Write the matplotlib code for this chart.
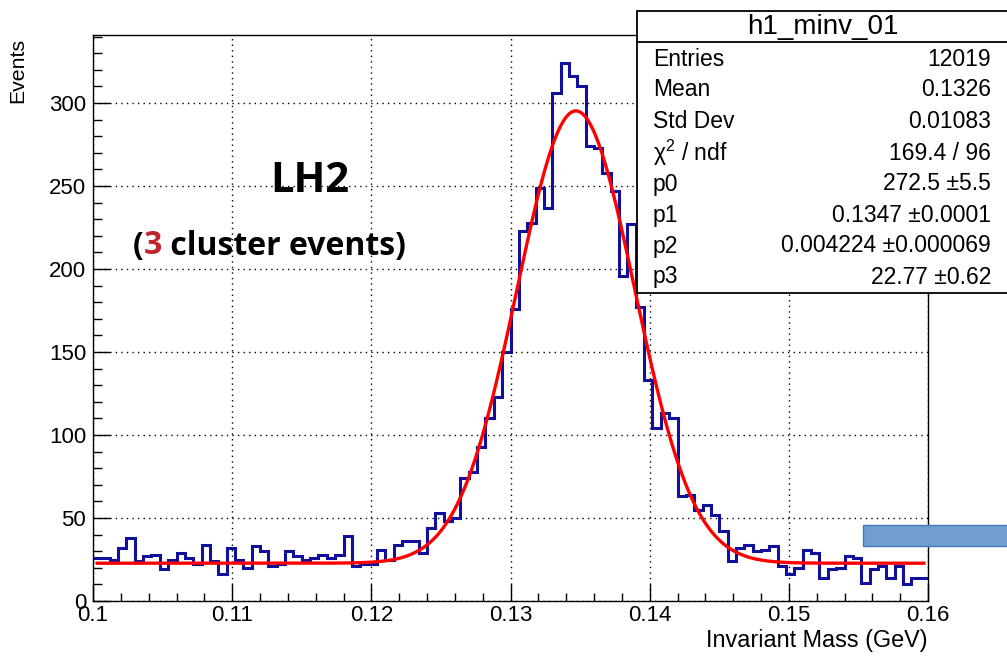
import numpy as np
import matplotlib
matplotlib.use("Agg")
import matplotlib.pyplot as plt
from matplotlib.patches import Rectangle
from matplotlib.lines import Line2D
from matplotlib.ticker import MultipleLocator

# ---- data -------------------------------------------------------------
x_min, x_max = 0.1, 0.16
counts = [26, 26, 25, 32, 38, 24, 27, 28, 19, 25,
          29, 26, 22, 34, 24, 16, 32, 25, 20, 33,
          30, 21, 22, 30, 27, 25, 26, 28, 26, 28,
          39, 21, 22, 22, 31, 25, 34, 36, 36, 29,
          44, 53, 48, 50, 74, 78, 93, 110, 123, 150,
          176, 223, 228, 249, 237, 306, 324, 316, 310, 274,
          273, 258, 247, 196, 227, 177, 133, 104, 113, 110,
          63, 64, 55, 58, 52, 42, 24, 32, 34, 30,
          31, 33, 21, 16, 20, 31, 29, 14, 19, 20,
          27, 26, 11, 19, 21, 14, 21, 10, 14, 14]

# gaussian + constant fit
fit_p0, fit_p1, fit_p2, fit_p3 = 272.5, 0.1347, 0.004224, 22.77
fit_lo, fit_hi = 0.1003, 0.1597

x_ticks = [0.1, 0.11, 0.12, 0.13, 0.14, 0.15, 0.16]
x_tick_labels = ["0.1", "0.11", "0.12", "0.13", "0.14", "0.15", "0.16"]
y_ticks = [0, 50, 100, 150, 200, 250, 300]
y_tick_labels = ["0", "50", "100", "150", "200", "250", "300"]

stat_title = "h1_minv_01"
stat_names = ["Entries", "Mean", "Std Dev", "χ$^{2}$ / ndf", "p0", "p1", "p2", "p3"]
stat_values = ["12019", "0.1326", "0.01083", "169.4 / 96", "272.5 ±5.5",
               "0.1347 ±0.0001", "0.004224 ±0.000069", "22.77 ±0.62"]

# ---- style ------------------------------------------------------------
W, H = 1007, 659
plt.rcParams["font.family"] = ["Liberation Sans", "DejaVu Sans"]
plt.rcParams["mathtext.fontset"] = "custom"
plt.rcParams["mathtext.rm"] = "Liberation Sans"
plt.rcParams["mathtext.it"] = "Liberation Sans:italic"

fig = plt.figure(figsize=(W / 100, H / 100), dpi=100)
fig.patch.set_facecolor("white")


def fx(px):
    return px / W


def fy(py):
    return 1 - py / H


ax_l, ax_r, ax_t, ax_b = 93, 928, 35, 601
ax = fig.add_axes([fx(ax_l), fy(ax_b), fx(ax_r) - fx(ax_l), fy(ax_t) - fy(ax_b)])

edges = np.linspace(x_min, x_max, len(counts) + 1)
ax.stairs(counts, edges, color="#10109a", lw=2.2, baseline=None, zorder=3)

xf = np.linspace(fit_lo, fit_hi, 600)
yf = fit_p0 * np.exp(-0.5 * ((xf - fit_p1) / fit_p2) ** 2) + fit_p3
ax.plot(xf, yf, color="#ff0000", lw=2.4, zorder=4)

ax.set_xlim(x_min, x_max)
ax.set_ylim(0, 341)

ax.set_xticks(x_ticks)
ax.set_xticklabels(x_tick_labels)
ax.set_yticks(y_ticks)
ax.set_yticklabels(y_tick_labels)
ax.xaxis.set_minor_locator(MultipleLocator(0.002))
ax.yaxis.set_minor_locator(MultipleLocator(10))
ax.tick_params(axis="x", which="major", direction="in", length=12, width=1,
               labelsize=16, pad=3, top=False)
ax.tick_params(axis="x", which="minor", direction="in", length=6, width=1, top=False)
ax.tick_params(axis="y", which="major", direction="in", length=12, width=1,
               labelsize=16, pad=5, right=False)
ax.tick_params(axis="y", which="minor", direction="in", length=6.5, width=1, right=False)

ax.grid(True, which="major", color="black", lw=1.0, linestyle=(0, (1, 3)))
ax.set_axisbelow(True)
for s in ax.spines.values():
    s.set_linewidth(1.0)

fig.text(fx(ax_r), fy(640), "Invariant Mass (GeV)", ha="right", va="center", fontsize=16.8)
fig.text(fx(18), fy(38), "Events", rotation=90, ha="center", va="top", fontsize=15.3)

# ---- statistics box ---------------------------------------------------
bx_l, bx_t, bx_b, bx_r = 637, 11, 293, 1012
fig.patches.append(Rectangle((fx(bx_l), fy(bx_b)), fx(bx_r) - fx(bx_l), fy(bx_t) - fy(bx_b),
                             transform=fig.transFigure, facecolor="white",
                             edgecolor="black", lw=1.3, zorder=5))
fig.lines.append(Line2D([fx(bx_l), fx(bx_r)], [fy(42), fy(42)], transform=fig.transFigure,
                        color="black", lw=1.3, zorder=6))
fig.text(fx(823), fy(27), stat_title, ha="center", va="center", fontsize=20, zorder=7)
row_y = [59, 90, 122, 153, 184, 215, 246, 277]
for name, val, ry in zip(stat_names, stat_values, row_y):
    fig.text(fx(653), fy(ry), name, ha="left", va="center", fontsize=16.5, zorder=7)
    fig.text(fx(991), fy(ry), val, ha="right", va="center", fontsize=16.5, zorder=7)

# ---- annotations ------------------------------------------------------
fig.text(fx(310), fy(182), "LH2", ha="center", va="center", fontsize=30,
         fontweight="bold", family=["Open Sans", "DejaVu Sans"], zorder=7)

fig.canvas.draw()
renderer = fig.canvas.get_renderer()
x_cursor = fx(133)
for piece, col in [("(", "black"), ("3", "#c0272d"), (" cluster events)", "black")]:
    t = fig.text(x_cursor, fy(246), piece, ha="left", va="center", fontsize=23,
                 fontweight="bold", color=col, family=["Open Sans", "DejaVu Sans"], zorder=7)
    bb = t.get_window_extent(renderer=renderer)
    x_cursor += bb.width / W

fig.patches.append(Rectangle((fx(863), fy(546)), fx(1012) - fx(863), fy(525) - fy(546),
                             transform=fig.transFigure, facecolor="#709ed0",
                             edgecolor="#4a78b8", lw=1.0, zorder=5))

fig.savefig("out.png", dpi=100)
